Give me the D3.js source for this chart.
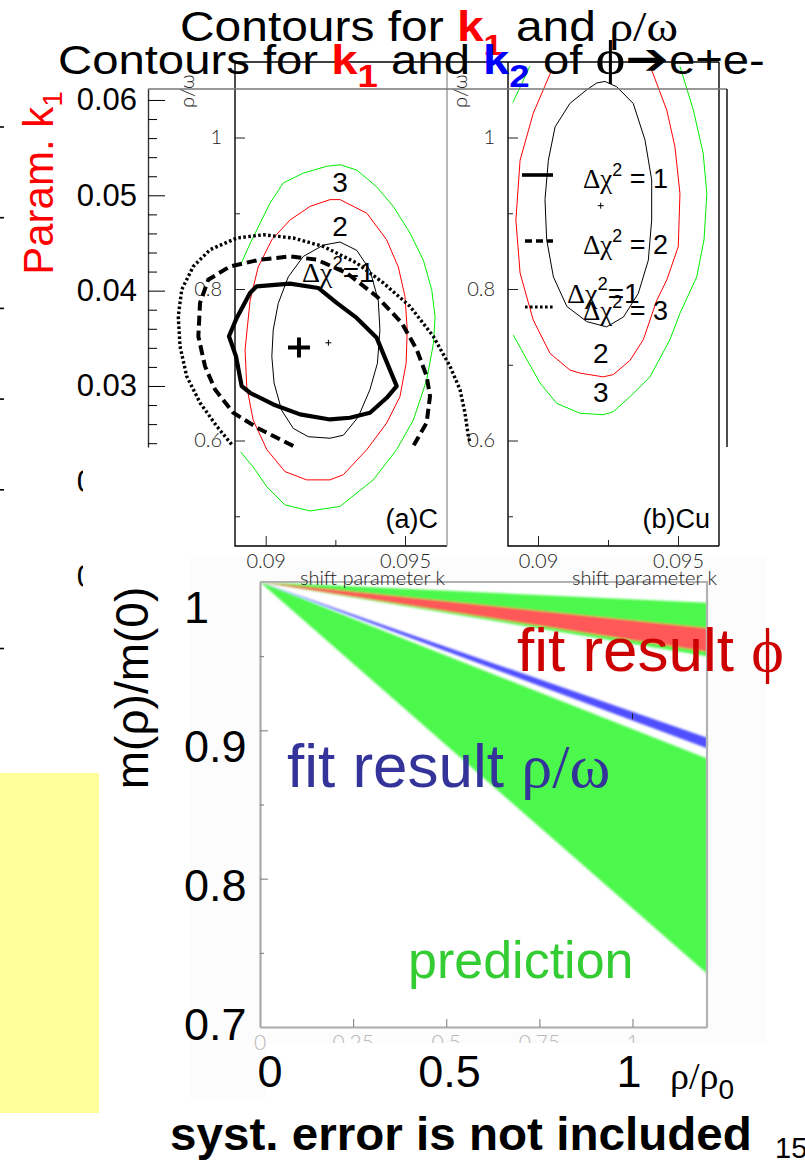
<!DOCTYPE html>
<html>
<head>
<meta charset="utf-8">
<script src="https://cdn.jsdelivr.net/npm/d3@7/dist/d3.min.js"></script>
<style>
  html,body{margin:0;padding:0;background:#fff;}
  svg{display:block;}
  .sans{font-family:"Liberation Sans",Arial,sans-serif;}
  .serif{font-family:"Liberation Serif","Times New Roman",serif;}
  .thin{font-family:Lato,"Open Sans",sans-serif;font-weight:300;}
</style>
</head>
<body>
<svg id="slide" width="805" height="1160" viewBox="0 0 805 1160"></svg>
<script>
// ---------------- data ----------------
// phi -> e+e- fit: Δχ² contours in the (k2, k1) plane
const k1Ticks = [0.06, 0.05, 0.04, 0.03, 0.02, 0.01];
const k1Minor = [0.058,0.056,0.054,0.052,0.048,0.046,0.044,0.042,0.038,0.036,0.034,0.032,0.028,0.026,0.024];
const k2k1Best = [0.01581, 0.03403];
const k2k1Chi1 = [[0.01138,0.04045],[0.01487,0.04073],[0.01783,0.04028],[0.01976,0.03871],[0.02185,0.03714],[0.02395,0.03505],[0.02604,0.02998],[0.02500,0.02876],[0.02325,0.02719],[0.02115,0.02667],[0.01906,0.02649],[0.01592,0.02702],[0.01312,0.02806],[0.01068,0.02929],[0.00981,0.02998],[0.00921,0.03312],[0.00848,0.03521],[0.00929,0.03714],[0.01068,0.03976]];
const k2k1Chi2 = [[0.01521,0.02370],[0.01173,0.02545],[0.00893,0.02719],[0.00702,0.02963],[0.00597,0.03207],[0.00527,0.03521],[0.00545,0.03871],[0.00631,0.04115],[0.00859,0.04254],[0.01173,0.04325],[0.01487,0.04359],[0.01766,0.04325],[0.02081,0.04185],[0.02395,0.03940],[0.02657,0.03662],[0.02814,0.03382],[0.02918,0.03103],[0.02953,0.02893],[0.02918,0.02615],[0.02778,0.02370]];
const k2k1Chi3 = [[0.00876,0.02387],[0.00719,0.02579],[0.00545,0.02824],[0.00405,0.03103],[0.00335,0.03417],[0.00317,0.03731],[0.00353,0.04010],[0.00474,0.04254],[0.00649,0.04429],[0.00929,0.04552],[0.01207,0.04586],[0.01521,0.04552],[0.01836,0.04464],[0.02185,0.04290],[0.02464,0.04081],[0.02743,0.03836],[0.02987,0.03521],[0.03162,0.03207],[0.03267,0.02963],[0.03319,0.02719],[0.03354,0.02474],[0.03372,0.02408]];
const chiLevels = ["1", "2", "3"];

// rho/omega fit: contours in the (shift parameter k, rho/omega) plane
const shiftTicks = [0.09, 0.095];
const shiftMinor = [0.0925];
const ratioTicks = [1, 0.8, 0.6];
const ratioMinor = [0.9, 0.7, 0.5];
const carbonBest = [0.09225, 0.729];
const carbonChi1 = [[0.09267,0.862],[0.09327,0.851],[0.09374,0.825],[0.09404,0.785],[0.09410,0.746],[0.09401,0.702],[0.09374,0.667],[0.09332,0.631],[0.09279,0.607],[0.09231,0.603],[0.09153,0.605],[0.09099,0.616],[0.09057,0.640],[0.09030,0.676],[0.09022,0.711],[0.09027,0.746],[0.09045,0.781],[0.09081,0.816],[0.09135,0.843],[0.09207,0.858]];
const carbonChi2 = [[0.09267,0.918],[0.09363,0.900],[0.09434,0.865],[0.09476,0.829],[0.09500,0.790],[0.09508,0.746],[0.09504,0.702],[0.09482,0.658],[0.09434,0.623],[0.09363,0.588],[0.09279,0.555],[0.09231,0.548],[0.09147,0.548],[0.09069,0.559],[0.09004,0.588],[0.08955,0.627],[0.08932,0.671],[0.08926,0.720],[0.08944,0.785],[0.08973,0.829],[0.09022,0.865],[0.09087,0.891],[0.09159,0.909],[0.09231,0.918]];
const carbonChi3 = [[0.08910,0.832],[0.08944,0.860],[0.08980,0.887],[0.09015,0.913],[0.09063,0.940],[0.09135,0.953],[0.09219,0.962],[0.09267,0.964],[0.09327,0.957],[0.09398,0.935],[0.09458,0.909],[0.09518,0.874],[0.09566,0.838],[0.09596,0.799],[0.09608,0.763],[0.09602,0.728],[0.09578,0.680],[0.09530,0.627],[0.09470,0.588],[0.09386,0.548],[0.09267,0.513],[0.09159,0.507],[0.09069,0.515],[0.09004,0.539],[0.08955,0.565],[0.08910,0.585]];
const copperBest = [0.09224, 0.910];
const copperChi1 = [[0.09239,1.074],[0.09281,1.067],[0.09340,1.045],[0.09382,0.997],[0.09406,0.944],[0.09406,0.891],[0.09394,0.838],[0.09358,0.794],[0.09305,0.763],[0.09245,0.750],[0.09174,0.757],[0.09103,0.777],[0.09055,0.816],[0.09031,0.865],[0.09025,0.918],[0.09037,0.970],[0.09061,1.014],[0.09114,1.045],[0.09174,1.063],[0.09210,1.072]];
const copperChi2 = [[0.09049,1.089],[0.08983,1.032],[0.08936,0.970],[0.08921,0.891],[0.08936,0.821],[0.08983,0.759],[0.09043,0.715],[0.09114,0.693],[0.09150,0.689],[0.09233,0.684],[0.09269,0.687],[0.09329,0.706],[0.09376,0.733],[0.09424,0.785],[0.09460,0.812],[0.09501,0.856],[0.09507,0.926],[0.09489,0.988],[0.09460,1.036],[0.09406,1.089]];
const copperChi3 = [[0.09507,1.094],[0.09555,1.036],[0.09590,0.979],[0.09603,0.926],[0.09593,0.865],[0.09567,0.816],[0.09507,0.768],[0.09471,0.733],[0.09400,0.684],[0.09329,0.658],[0.09269,0.638],[0.09233,0.634],[0.09150,0.636],[0.09067,0.649],[0.09007,0.676],[0.08948,0.715],[0.08912,0.739]];
const copperChi3Edge = [[0.08971,1.094],[0.08910,1.046]];

// in-medium mass ratio m(rho)/m(0) versus rho/rho0: band limits at rho/rho0 = 0 and 1.2
const densityEnds = [0, 1.2];
const densityTicks = [0.25, 0.5, 0.75, 1];
const densityTickLabels = [0, 0.25, 0.5, 0.75, 1];
const massTicks = [0.9, 0.8];
const massMinor = [0.95, 0.85, 0.75];
const predRhoLow = [1, 0.736], predRhoHigh = [1, 0.881];
const fitRhoLow = [1, 0.888], fitRhoHigh = [1, 0.895];
const predPhiLow = [1, 0.950], predPhiHigh = [1, 0.986];
const fitPhiLow = [1, 0.953], fitPhiHigh = [1, 0.969];
const fitRhoPoint = [1, 0.9095];
const massLabels = [1, 0.9, 0.8, 0.7];
const densityLabels = [0, 0.5, 1];
const stripRows = [0, 1, 2, 3, 4, 5.75];

// ---------------- drawing ----------------
const svg = d3.select("#slide");
const defs = svg.append("defs");
defs.append("filter").attr("id", "soft")
  .attr("x", "-5%").attr("y", "-5%").attr("width", "110%").attr("height", "110%")
  .append("feGaussianBlur").attr("stdDeviation", 0.8);

// stretch a text element horizontally so it spans [x0, x0 + width]
function fitText(t, x0, width) {
  const b = t.node().getBBox();
  t.attr("transform", `translate(${x0},0) scale(${width / b.width},1) translate(${-b.x},0)`);
}
function chiText(parent, x, y, size, tail) {
  const t = parent.append("text").attr("class", "sans").attr("x", x).attr("y", y)
    .attr("font-size", size).attr("fill", "#000");
  t.append("tspan").attr("class", "serif").text("Δχ");
  t.append("tspan").attr("font-size", size * 0.66).attr("dy", -size * 0.45).text("2");
  t.append("tspan").attr("dy", size * 0.45).text(tail);
  return t;
}

// faint backdrop of the lower figure
svg.append("rect").attr("x", 190).attr("y", 557).attr("width", 575).attr("height", 543).attr("fill", "#fcfcfc");

// ===== lower chart: m(rho)/m(0) vs rho/rho0 =====
const xD = d3.scaleLinear().domain([0, 1.2]).range([260, 707]);
const yM = d3.scaleLinear().domain([0.7, 1.0]).range([1027, 582]);
const bot = svg.append("g");
bot.append("rect").attr("x", xD(0)).attr("y", yM(1)).attr("width", xD(1.2) - xD(0))
  .attr("height", yM(0.7) - yM(1)).attr("fill", "#fff");

const wedge = (lo, hi) => d3.area()
  .x(d => xD(d)).y0((d, i) => yM(lo[i])).y1((d, i) => yM(hi[i]))(densityEnds);
const bands = bot.append("g").attr("filter", "url(#soft)");
bands.append("path").attr("d", wedge(predRhoLow, predRhoHigh)).attr("fill", "#4cf84c");
bands.append("path").attr("d", wedge(predPhiLow, predPhiHigh)).attr("fill", "#4cf84c");
bands.append("path").attr("d", wedge(fitPhiLow, fitPhiHigh)).attr("fill", "#ff5858");
bands.append("path").attr("d", wedge(fitRhoLow, fitRhoHigh)).attr("fill", "#4f4fff");
bot.append("line").attr("x1", xD(fitRhoPoint[0])).attr("x2", xD(fitRhoPoint[0]))
  .attr("y1", yM(fitRhoPoint[1]) - 3).attr("y2", yM(fitRhoPoint[1]) + 3)
  .attr("stroke", "#222").attr("stroke-width", 1);

const axL = bot.append("g").attr("transform", `translate(${xD(0)},0)`).attr("color", "#777")
  .call(d3.axisLeft(yM).tickValues(massTicks).tickSizeInner(-8).tickSizeOuter(0).tickFormat(""));
axL.select(".domain").attr("stroke", "#aaa").attr("stroke-width", 2.2);
bot.append("g").attr("transform", `translate(${xD(0)},0)`).attr("color", "#777")
  .call(d3.axisLeft(yM).tickValues(massMinor).tickSizeInner(-4).tickSizeOuter(0).tickFormat(""))
  .select(".domain").remove();
const axB = bot.append("g").attr("transform", `translate(0,${yM(0.7)})`).attr("color", "#777")
  .call(d3.axisBottom(xD).tickValues(densityTicks).tickSizeInner(-8).tickSizeOuter(0).tickFormat(""));
axB.select(".domain").attr("stroke", "#aaa").attr("stroke-width", 2.2);
bot.append("path").attr("d", `M${xD(0)},${yM(1)}H${xD(1.2)}V${yM(0.7)}`)
  .attr("fill", "none").attr("stroke", "#b2b2b2").attr("stroke-width", 2.2);

bot.append("g").selectAll("text").data(densityTickLabels).join("text")
  .attr("class", "thin").attr("x", d => xD(d)).attr("y", yM(0.7) + 23)
  .attr("text-anchor", "middle").attr("font-size", 21).attr("fill", "#b8b8b8").text(d => d);
bot.append("rect").attr("x", 266).attr("y", 1043).attr("width", 499).attr("height", 57).attr("fill", "#fff");

// ===== contour panels: shift parameter k vs rho/omega =====
const rhoP = d3.scaleLinear().domain([1, 0.6]).range([137.5, 440.5]);
const kA = d3.scaleLinear().domain([0.09, 0.095]).range([265.7, 405]);
const kB = d3.scaleLinear().domain([0.09, 0.095]).range([538, 678]);
const panelTop = 62, panelBottom = 546;

function drawPanel(k, left, right, rightStroke, tag, best, c1, c2, c3list, labels) {
  const g = svg.append("g");
  const line = d3.line().x(d => k(d[0])).y(d => rhoP(d[1]));
  const closed = d3.line().x(d => k(d[0])).y(d => rhoP(d[1])).curve(d3.curveLinearClosed);
  c3list.forEach(c => g.append("path").attr("d", line(c)).attr("fill", "none").attr("stroke", "#00ee00").attr("stroke-width", 1));
  g.append("path").attr("d", c2.closedShape ? closed(c2) : line(c2)).attr("fill", "none").attr("stroke", "#ff0000").attr("stroke-width", 1);
  g.append("path").attr("d", closed(c1)).attr("fill", "none").attr("stroke", "#000").attr("stroke-width", 1);
  const bx = k(best[0]), by = rhoP(best[1]);
  g.append("path").attr("d", `M${bx - 3},${by}H${bx + 3}M${bx},${by - 3}V${by + 3}`).attr("stroke", "#000").attr("stroke-width", 1);

  g.append("path").attr("d", `M${left},${panelTop}V${panelBottom}H${right}`)
    .attr("fill", "none").attr("stroke", "#000").attr("stroke-width", 1.4);
  g.append("line").attr("x1", right).attr("x2", right).attr("y1", panelTop).attr("y2", panelBottom)
    .attr("stroke", rightStroke).attr("stroke-width", 1.4);

  const ay = g.append("g").attr("transform", `translate(${left},0)`).attr("class", "thin").attr("color", "#222")
    .call(d3.axisLeft(rhoP).tickValues(ratioTicks).tickSizeInner(-10).tickSizeOuter(0).tickPadding(13).tickFormat(d3.format("")));
  ay.attr("font-size", 20); ay.select(".domain").remove();
  g.append("g").attr("transform", `translate(${left},0)`).attr("color", "#222")
    .call(d3.axisLeft(rhoP).tickValues(ratioMinor).tickSizeInner(-5).tickSizeOuter(0).tickFormat(""))
    .select(".domain").remove();
  const ax = g.append("g").attr("transform", `translate(0,${panelBottom})`).attr("class", "thin").attr("color", "#222")
    .call(d3.axisBottom(k).tickValues(shiftTicks).tickSizeInner(-10).tickSizeOuter(0).tickPadding(8).tickFormat(d3.format("")));
  ax.attr("font-size", 20); ax.select(".domain").remove();
  g.append("g").attr("transform", `translate(0,${panelBottom})`).attr("color", "#222")
    .call(d3.axisBottom(k).tickValues(shiftMinor).tickSizeInner(-6).tickSizeOuter(0).tickFormat(""))
    .select(".domain").remove();

  g.append("text").attr("class", "thin").attr("x", right - 2).attr("y", 585).attr("text-anchor", "end")
    .attr("font-size", 20).attr("fill", "#222").text("shift parameter k");
  g.append("text").attr("class", "thin").attr("transform", `translate(${left - 41},108) rotate(-90)`)
    .attr("font-size", 20).attr("fill", "#222").text("ρ/ω");
  g.append("text").attr("class", "sans").attr("x", right - 9).attr("y", 528).attr("text-anchor", "end")
    .attr("font-size", 27).attr("fill", "#000").text(tag);

  labels(g);
}

drawPanel(kA, 235, 447, "#999", "(a)C", carbonBest, carbonChi1,
  Object.assign(carbonChi2.slice(), {closedShape: true}), [carbonChi3], g => {
    g.append("text").attr("class", "sans").attr("x", kA(0.09267)).attr("y", 192).attr("text-anchor", "middle").attr("font-size", 28).text("3");
    g.append("text").attr("class", "sans").attr("x", kA(0.09267)).attr("y", 236).attr("text-anchor", "middle").attr("font-size", 28).text("2");
    chiText(g, 302, 282, 28, "=1");
  });
drawPanel(kB, 508, 719, "#000", "(b)Cu", copperBest, copperChi1, copperChi2,
  [copperChi3, copperChi3Edge], g => {
    g.append("text").attr("class", "sans").attr("x", kB(0.09224)).attr("y", 363).attr("text-anchor", "middle").attr("font-size", 28).text("2");
    g.append("text").attr("class", "sans").attr("x", kB(0.09224)).attr("y", 402).attr("text-anchor", "middle").attr("font-size", 28).text("3");
    chiText(g, 567, 303, 28, "=1");
  });
svg.append("line").attr("x1", 235).attr("x2", 719).attr("y1", panelTop).attr("y2", panelTop)
  .attr("stroke", "#000").attr("stroke-width", 1.4);

// ===== k1 vs k2 contours =====
const xK2 = d3.scaleLinear().domain([0, 0.06063]).range([148, 727]);
const yK1 = d3.scaleLinear().domain([0.06115, 0.0236]).range([89, 447]);
const left = svg.append("g");
left.append("line").attr("x1", 148).attr("x2", 727).attr("y1", 89).attr("y2", 89).attr("stroke", "#777").attr("stroke-width", 1.6);
left.append("line").attr("x1", 727).attr("x2", 727).attr("y1", 89).attr("y2", 447).attr("stroke", "#222").attr("stroke-width", 1.6);
const axK1 = left.append("g").attr("transform", "translate(148,0)").attr("class", "sans").attr("color", "#000")
  .call(d3.axisLeft(yK1).tickValues(k1Ticks).tickSizeInner(-17).tickSizeOuter(0).tickPadding(11).tickFormat(d3.format(".2f")));
axK1.attr("font-size", 31);
axK1.select(".domain").attr("stroke", "#333").attr("stroke-width", 1.4);
left.append("g").attr("transform", "translate(148,0)").attr("color", "#000")
  .call(d3.axisLeft(yK1).tickValues(k1Minor).tickSizeInner(-9).tickSizeOuter(0).tickFormat(""))
  .select(".domain").remove();
// covers the lower part of the k1 axis labels
left.append("rect").attr("x", 83).attr("y", 452).attr("width", 100).attr("height", 150).attr("fill", "#fff");

const lineK = d3.line().x(d => xK2(d[0])).y(d => yK1(d[1]));
const closedK = d3.line().x(d => xK2(d[0])).y(d => yK1(d[1])).curve(d3.curveLinearClosed);
const chiStyle = [
  {dash: null, width: 4.2, legendDash: null},
  {dash: "10,5", width: 4, legendDash: "7,4"},
  {dash: "2.6,2.4", width: 3.4, legendDash: "2.6,2.4"}
];
left.append("path").attr("d", lineK(k2k1Chi3)).attr("fill", "none").attr("stroke", "#000")
  .attr("stroke-width", chiStyle[2].width).attr("stroke-dasharray", chiStyle[2].dash);
left.append("path").attr("d", lineK(k2k1Chi2)).attr("fill", "none").attr("stroke", "#000")
  .attr("stroke-width", chiStyle[1].width).attr("stroke-dasharray", chiStyle[1].dash);
left.append("path").attr("d", closedK(k2k1Chi1)).attr("fill", "none").attr("stroke", "#000")
  .attr("stroke-width", chiStyle[0].width).attr("stroke-linejoin", "round");
const cx = xK2(k2k1Best[0]), cy = yK1(k2k1Best[1]);
left.append("path").attr("d", `M${cx - 11},${cy}H${cx + 11}M${cx},${cy - 10}V${cy + 10}`)
  .attr("stroke", "#000").attr("stroke-width", 4);

// legend
chiLevels.forEach((lvl, i) => {
  const base = 188 + i * 66;
  const st = chiStyle[i];
  left.append("line").attr("x1", i === 0 ? 522 : 525).attr("x2", 553).attr("y1", base - 13).attr("y2", base - 13)
    .attr("stroke", "#000").attr("stroke-width", i === 2 ? 3 : 3.6).attr("stroke-dasharray", st.legendDash);
  chiText(left, 583, base, 27, " = " + lvl);
});

// ===== titles =====
const t1 = svg.append("text").attr("class", "sans").attr("y", 41).attr("font-size", 42).attr("fill", "#000");
t1.append("tspan").text("Contours for ");
t1.append("tspan").attr("font-weight", "bold").attr("fill", "#ff0000").text("k");
t1.append("tspan").attr("font-weight", "bold").attr("fill", "#ff0000").attr("font-size", 30).attr("dy", 14).text("1");
t1.append("tspan").attr("dy", -14).text(" and ");
t1.append("tspan").attr("class", "serif").text("ρ/ω");
fitText(t1, 180, 498);

const t2 = svg.append("text").attr("class", "sans").attr("y", 74).attr("font-size", 40).attr("fill", "#000");
t2.append("tspan").text("Contours for ");
t2.append("tspan").attr("font-weight", "bold").attr("fill", "#ff0000").text("k");
t2.append("tspan").attr("font-weight", "bold").attr("fill", "#ff0000").attr("font-size", 31).attr("dy", 13).text("1");
t2.append("tspan").attr("dy", -13).text(" and ");
t2.append("tspan").attr("font-weight", "bold").attr("fill", "#0000ff").text("k");
t2.append("tspan").attr("font-weight", "bold").attr("fill", "#0000ff").attr("font-size", 31).attr("dy", 13).text("2");
t2.append("tspan").attr("dy", -13).text(" of ");
t2.append("tspan").attr("class", "serif").attr("font-size", 48).text("ϕ");
t2.append("tspan").attr("font-family", "DejaVu Sans").attr("font-size", 44).text("➔");
t2.append("tspan").text("e+e-");
fitText(t2, 58, 707);

// ===== side decorations and axis titles =====
const strip = d3.scaleLinear().domain([0, 1]).range([127, 217.7]);
svg.append("g").selectAll("line").data(stripRows).join("line")
  .attr("x1", 0).attr("x2", 4).attr("y1", d => strip(d)).attr("y2", d => strip(d))
  .attr("stroke", "#000").attr("stroke-width", 1.6);

const pk = svg.append("text").attr("class", "sans").attr("transform", "translate(53,183) rotate(-90)")
  .attr("text-anchor", "middle").attr("font-size", 42).attr("fill", "#ff0000");
pk.append("tspan").text("Param. k");
pk.append("tspan").attr("font-size", 28).attr("dy", 9).text("1");

svg.append("rect").attr("x", 0).attr("y", 773).attr("width", 99).attr("height", 340).attr("fill", "#ffff99");

svg.append("text").attr("class", "sans").attr("transform", "translate(148,688) rotate(-90)")
  .attr("text-anchor", "middle").attr("font-size", 46).attr("fill", "#000").text("m(ρ)/m(0)");

const yBig = d3.scaleLinear().domain([0.7, 1]).range([1040, 623]);
svg.append("g").selectAll("text").data(massLabels).join("text")
  .attr("class", "sans").attr("x", 184).attr("y", d => yBig(d)).attr("font-size", 45).attr("fill", "#000")
  .text(d => d3.format("")(d));
const xBig = d3.scaleLinear().domain([0, 1]).range([270, 629]);
svg.append("g").selectAll("text").data(densityLabels).join("text")
  .attr("class", "sans").attr("x", d => xBig(d)).attr("y", 1087).attr("text-anchor", "middle")
  .attr("font-size", 45).attr("fill", "#000").text(d => d3.format("")(d));
const rr = svg.append("text").attr("class", "serif").attr("x", 670).attr("y", 1089).attr("font-size", 38).attr("fill", "#000");
rr.append("tspan").text("ρ/ρ");
rr.append("tspan").attr("class", "sans").attr("font-size", 28).attr("dy", 10).text("0");

const fp = svg.append("text").attr("class", "sans").attr("x", 517).attr("y", 671).attr("font-size", 62).attr("fill", "#cc0000");
fp.append("tspan").text("fit result ");
fp.append("tspan").attr("class", "serif").text("ϕ");

const fr = svg.append("text").attr("class", "sans").attr("x", 287).attr("y", 787).attr("font-size", 62).attr("fill", "#333399");
fr.append("tspan").text("fit result ");
fr.append("tspan").attr("class", "serif").text("ρ/ω");

svg.append("text").attr("class", "sans").attr("x", 408).attr("y", 978).attr("font-size", 52).attr("fill", "#33cc33").text("prediction");

const syst = svg.append("text").attr("class", "sans").attr("y", 1150).attr("font-size", 46)
  .attr("font-weight", "bold").attr("fill", "#000").text("syst. error is not included");
fitText(syst, 170, 582);
svg.append("text").attr("class", "sans").attr("x", 775).attr("y", 1158).attr("font-size", 29).attr("fill", "#000").text("15");
</script>
</body>
</html>
